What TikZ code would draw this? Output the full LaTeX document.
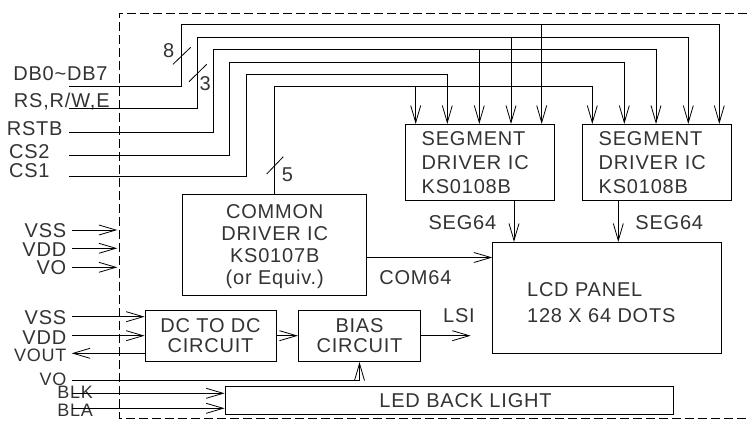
\documentclass[tikz,border=0pt]{standalone}
\usepackage{fontspec}
\setmainfont{Liberation Sans}[LetterSpace=4]
\usetikzlibrary{arrows.meta}
\newcommand\cadfont{\fontsize{20}{24}\selectfont}
\newcommand\smallcad{\fontsize{18}{22}\selectfont}
\begin{document}
\begin{tikzpicture}[x=1pt,y=-1pt,
  line width=0.8pt,
  >={Straight Barb[length=17pt,width=10pt]},
  box/.style={draw, inner sep=0pt, text=black!80},
  txt/.style={inner sep=0pt, text height=14.3pt, text depth=0pt, font=\cadfont, text=black!80},
  stxt/.style={inner sep=0pt, text height=12.9pt, text depth=0pt, font=\smallcad, text=black!80},
  frame/.style={dash pattern=on 9pt off 4pt, line width=0.8pt}]
\useasboundingbox (0,0) rectangle (749,423);

% dashed module outline
\draw[frame] (760,13) -- (119,13) -- (119,418.3) -- (760,418.3);

% boxes
\node[box, minimum width=149pt, minimum height=75.7pt, text width=115.6pt, align=left,
      font=\fontsize{20}{24}\selectfont] (seg1) at (479.5,162.2) {SEGMENT\\DRIVER IC\\KS0108B};
\node[box, minimum width=149.7pt, minimum height=75.7pt, text width=116.3pt, align=left,
      font=\fontsize{20}{24}\selectfont] (seg2) at (656.85,162.2) {SEGMENT\\DRIVER IC\\KS0108B};
\node[box, minimum width=184pt, minimum height=101pt, align=center,
      font=\fontsize{20}{21.7}\selectfont] (common) at (274.7,244.5)
      {COMMON\\DRIVER IC\\KS0107B\\\smash{(or Equiv.)}};
\node[box, minimum width=228.3pt, minimum height=111pt] (lcd) at (606.85,297.8) {};
\node[inner sep=0pt, anchor=north west, align=left, font=\fontsize{20}{26}\selectfont, text=black!80]
      (lcdtext) at (526.7,281.85) {LCD PANEL\\128 X 64 DOTS};
\node[box, minimum width=131pt, minimum height=51.7pt, align=center,
      font=\fontsize{20}{20}\selectfont] (dc) at (210.5,335.85) {DC TO DC\\CIRCUIT};
\node[box, minimum width=122.4pt, minimum height=51.7pt, align=center,
      font=\fontsize{20}{20}\selectfont] (bias) at (359.5,335.85) {BIAS\\CIRCUIT};
\node[box, minimum width=448.3pt, minimum height=27.3pt] (led) at (449.15,400.35) {};
\node[txt] (ledtext) at (465.5,400.3) {LED BACK LIGHT};

% left signal labels
\node[txt, anchor=east] (ldb)   at (108,73.7)  {DB0\textasciitilde DB7};
\node[txt, anchor=east] (lrs)   at (110,100)   {RS,R/W,E};
\node[txt, anchor=east] (lrstb) at (63,128.5)  {RSTB};
\node[txt, anchor=east] (lcs2)  at (50,151)    {CS2};
\node[txt, anchor=east] (lcs1)  at (50,170)    {CS1};

\node[txt, anchor=east] (lvss1) at (66.7,230.8) {VSS};
\node[txt, anchor=east] (lvdd1) at (66.7,249)   {VDD};
\node[txt, anchor=east] (lvo1)  at (66.7,267.5) {VO};
\node[txt, anchor=east] (lvss2) at (66.7,317.5) {VSS};
\node[txt, anchor=east] (lvdd2) at (66.7,337)   {VDD};
\node[stxt, anchor=east] (lvout) at (66.7,355) {VOUT};
\node[stxt, anchor=east] (lvo2)  at (66.7,379)   {VO};
\node[stxt, anchor=east] (lblk)  at (93.3,392.3) {BLK};
\node[stxt, anchor=east] (lbla)  at (93.3,410.5) {BLA};

% inner labels
\node[txt, anchor=east] (lseg1) at (496.7,222.7) {SEG64};
\node[txt, anchor=west] (lseg2) at (635,222.7)   {SEG64};
\node[txt, anchor=west] (lcom)  at (379,277.3)   {COM64};
\node[txt, anchor=west] (llsi)  at (442.7,315)   {LSI};
\node[txt] (n8) at (168.7,50.7) {8};
\node[txt] (n3) at (205.3,83)   {3};
\node[txt] (n5) at (287.5,174)  {5};

% bus start points
\coordinate (sdb)   at (69,86.3);
\coordinate (srs)   at (69,108.3);
\coordinate (srstb) at (69,132.7);
\coordinate (scs2)  at (69,155.7);
\coordinate (scs1)  at (69,176.7);

% bus lines
\draw[->] (sdb) -| (181.7,24.3) -| (719.3,0 |- seg2.north);
\draw[->] (541.7,24.3) -- (541.7,0 |- seg1.north);
\draw[->] (srs) -| (197.7,37) -| (688.3,0 |- seg2.north);
\draw[->] (511,37) -- (511,0 |- seg1.north);
\draw[->] (srstb) -| (213.3,49.7) -| (656,0 |- seg2.north);
\draw[->] (479.3,49.7) -- (479.3,0 |- seg1.north);
\draw[->] (scs2) -| (229.3,62.3) -| (624.3,0 |- seg2.north);
\draw[->] (scs1) -| (246,74.7) -| (447.3,0 |- seg1.north);
\draw[->] (274.3,0 |- common.north) |- (592.3,86.3) -- (592.3,0 |- seg2.north);
\draw[->] (415.7,86.3) -- (415.7,0 |- seg1.north);

% bus width marks
\draw (173,64.3) -- (190.7,47.3);
\draw (189,81.7) -- (206.7,64.3);
\draw (266.7,174) -- (283.3,156.7);

% segment and common outputs
\draw[->] (514,0 |- seg1.south) -- (514,0 |- lcd.north);
\draw[->] (618.3,0 |- seg2.south) -- (618.3,0 |- lcd.north);
\draw[->] (common.east |- 0,257.5) -- (lcd.west |- 0,257.5);

% power inputs
\coordinate (evss1) at (117.3,230);
\coordinate (evdd1) at (117.3,248.3);
\coordinate (evo1)  at (117.3,267.3);
\draw[->] (72,230) -- (evss1);
\draw[->] (72,248.3) -- (evdd1);
\draw[->] (72,267.3) -- (evo1);

\draw[->] (72,316.7) -- (dc.west |- 0,316.7);
\draw[->] (72,335.7) -- (dc.west |- 0,335.7);
\coordinate (evout) at (71.7,353.3);
\draw[->] (dc.west |- 0,353.3) -- (evout);
\draw[->] (72,380) -| (bias.south);
\draw[->] (dc.east |- 0,335.7) -- (bias.west |- 0,335.7);
\coordinate (elsi) at (470.7,335.7);
\draw[->] (bias.east |- 0,335.7) -- (elsi);

\draw[->] (71.7,393.3) -- (led.west |- 0,393.3);
\draw[->] (71.7,408.3) -- (led.west |- 0,408.3);
\end{tikzpicture}
\end{document}
